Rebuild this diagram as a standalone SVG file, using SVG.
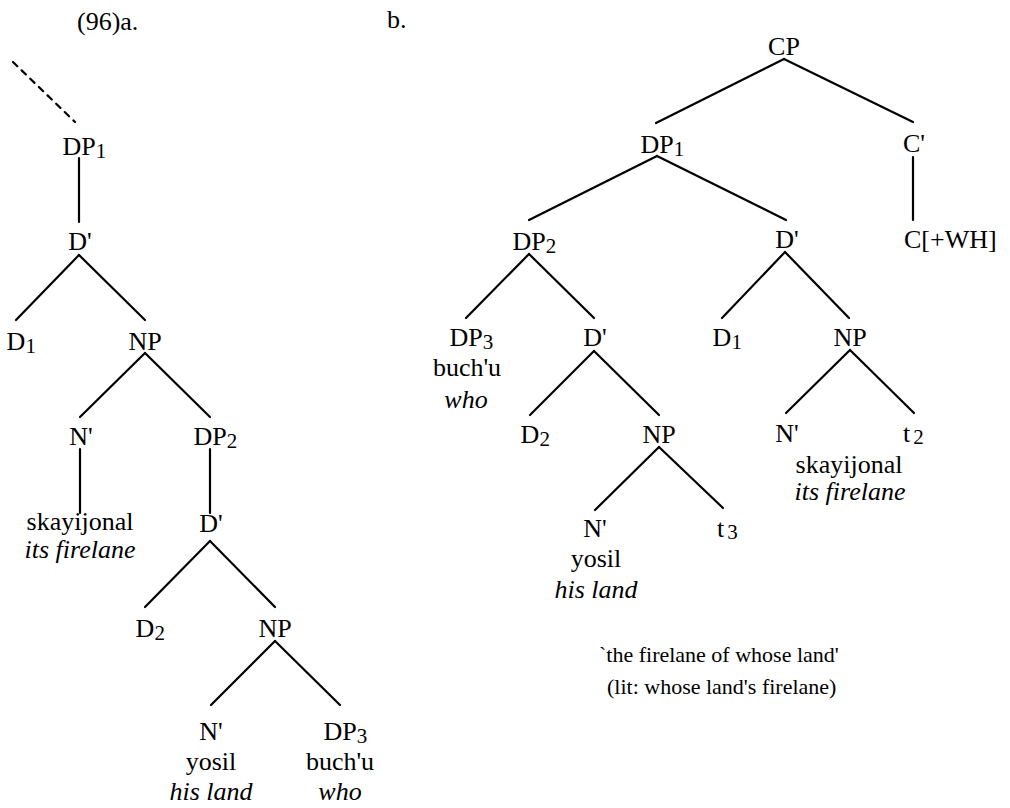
<svg xmlns="http://www.w3.org/2000/svg" width="1010" height="808" viewBox="0 0 1010 808">
<style>
text{font-family:"Liberation Serif","Times New Roman",serif;font-size:26px;fill:#000}
.m{text-anchor:middle}
.i{font-style:italic}
.sub{font-size:21px}
.cap{font-size:22px}
#edges line{stroke:#000;stroke-width:2.2;stroke-linecap:round}
</style>
<rect width="1010" height="808" fill="#fff"/>
<text x="77" y="30" font-size="24">(96)a.</text>
<text x="387" y="28" font-size="24">b.</text>
<g id="edges">
<line x1="13" y1="62" x2="75" y2="122" stroke-dasharray="6 6"/>
<line x1="79" y1="158" x2="79" y2="222"/>
<line x1="79" y1="255" x2="16" y2="320"/>
<line x1="79" y1="255" x2="145" y2="320"/>
<line x1="145" y1="353" x2="80" y2="417"/>
<line x1="145" y1="353" x2="210" y2="417"/>
<line x1="80" y1="449" x2="80" y2="513"/>
<line x1="210" y1="449" x2="210" y2="513"/>
<line x1="210" y1="541" x2="145" y2="607"/>
<line x1="210" y1="541" x2="275" y2="607"/>
<line x1="275" y1="641" x2="211" y2="705"/>
<line x1="275" y1="641" x2="340" y2="705"/>
<line x1="784" y1="59" x2="656" y2="123"/>
<line x1="784" y1="59" x2="913" y2="122"/>
<line x1="913" y1="157" x2="913" y2="220"/>
<line x1="657" y1="156" x2="529" y2="220"/>
<line x1="657" y1="156" x2="786" y2="220"/>
<line x1="529" y1="254" x2="466" y2="318"/>
<line x1="529" y1="254" x2="594" y2="318"/>
<line x1="594" y1="351" x2="530" y2="415"/>
<line x1="594" y1="351" x2="659" y2="415"/>
<line x1="659" y1="447" x2="595" y2="510"/>
<line x1="659" y1="447" x2="723" y2="508"/>
<line x1="785" y1="252" x2="722" y2="318"/>
<line x1="785" y1="252" x2="849" y2="318"/>
<line x1="850" y1="350" x2="786" y2="413"/>
<line x1="850" y1="350" x2="914" y2="413"/>
</g>
<g id="a-DP1"><text x="62.4" y="155">DP<tspan class="sub" dy="3">1</tspan></text></g>
<g id="a-Dbar1"><text class="m" x="80" y="250">D'</text></g>
<g id="a-D1"><text x="6.6" y="350">D<tspan class="sub" dy="3">1</tspan></text></g>
<g id="a-NP1"><text class="m" x="145" y="350">NP</text></g>
<g id="a-Nbar1"><text class="m" x="81" y="445">N'</text></g>
<g id="a-DP2"><text x="193.4" y="445">DP<tspan class="sub" dy="3">2</tspan></text></g>
<g id="a-skay"><text class="m" x="80" y="530">skayijonal</text><text class="m i" x="80" y="558">its firelane</text></g>
<g id="a-Dbar2"><text class="m" x="211" y="532">D'</text></g>
<g id="a-D2"><text x="135.6" y="637">D<tspan class="sub" dy="3">2</tspan></text></g>
<g id="a-NP2"><text class="m" x="275" y="637">NP</text></g>
<g id="a-Nbar2"><text class="m" x="211" y="740">N'</text><text class="m" x="211" y="770">yosil</text><text class="m i" x="211" y="800">his land</text></g>
<g id="a-DP3"><text x="323.4" y="740">DP<tspan class="sub" dy="3">3</tspan></text><text class="m" x="340" y="770">buch'u</text><text class="m i" x="340" y="800">who</text></g>
<g id="b-CP"><text class="m" x="784" y="55">CP</text></g>
<g id="b-DP1"><text x="640.4" y="153">DP<tspan class="sub" dy="3">1</tspan></text></g>
<g id="b-Cbar"><text class="m" x="914" y="152">C'</text></g>
<g id="b-C"><text x="904" y="248">C[+WH]</text></g>
<g id="b-DP2"><text x="512.4" y="250">DP<tspan class="sub" dy="3">2</tspan></text></g>
<g id="b-Dbar1"><text class="m" x="787" y="248">D'</text></g>
<g id="b-DP3"><text x="449.4" y="346">DP<tspan class="sub" dy="3">3</tspan></text><text class="m" x="467" y="376">buch'u</text><text class="m i" x="466" y="408">who</text></g>
<g id="b-Dbar2"><text class="m" x="595" y="346">D'</text></g>
<g id="b-D2"><text x="520.6" y="443">D<tspan class="sub" dy="3">2</tspan></text></g>
<g id="b-NP2"><text class="m" x="659" y="443">NP</text></g>
<g id="b-Nbar2"><text class="m" x="595" y="537">N'</text><text class="m" x="596" y="567">yosil</text><text class="m i" x="596" y="598">his land</text></g>
<g id="b-t3"><text x="717" y="537">t<tspan class="sub" dx="3" dy="2">3</tspan></text></g>
<g id="b-D1"><text x="712.6" y="346">D<tspan class="sub" dy="3">1</tspan></text></g>
<g id="b-NP1"><text class="m" x="850" y="346">NP</text></g>
<g id="b-Nbar1"><text class="m" x="787" y="442">N'</text><text class="m" x="849" y="473">skayijonal</text><text class="m i" x="850" y="500">its firelane</text></g>
<g id="b-t2"><text x="903" y="442">t<tspan class="sub" dx="3" dy="2">2</tspan></text></g>
<g id="caption"><text class="cap" x="599" y="662">`the firelane of whose land'</text><text class="cap" x="607" y="694">(lit: whose land's firelane)</text></g>
</svg>
